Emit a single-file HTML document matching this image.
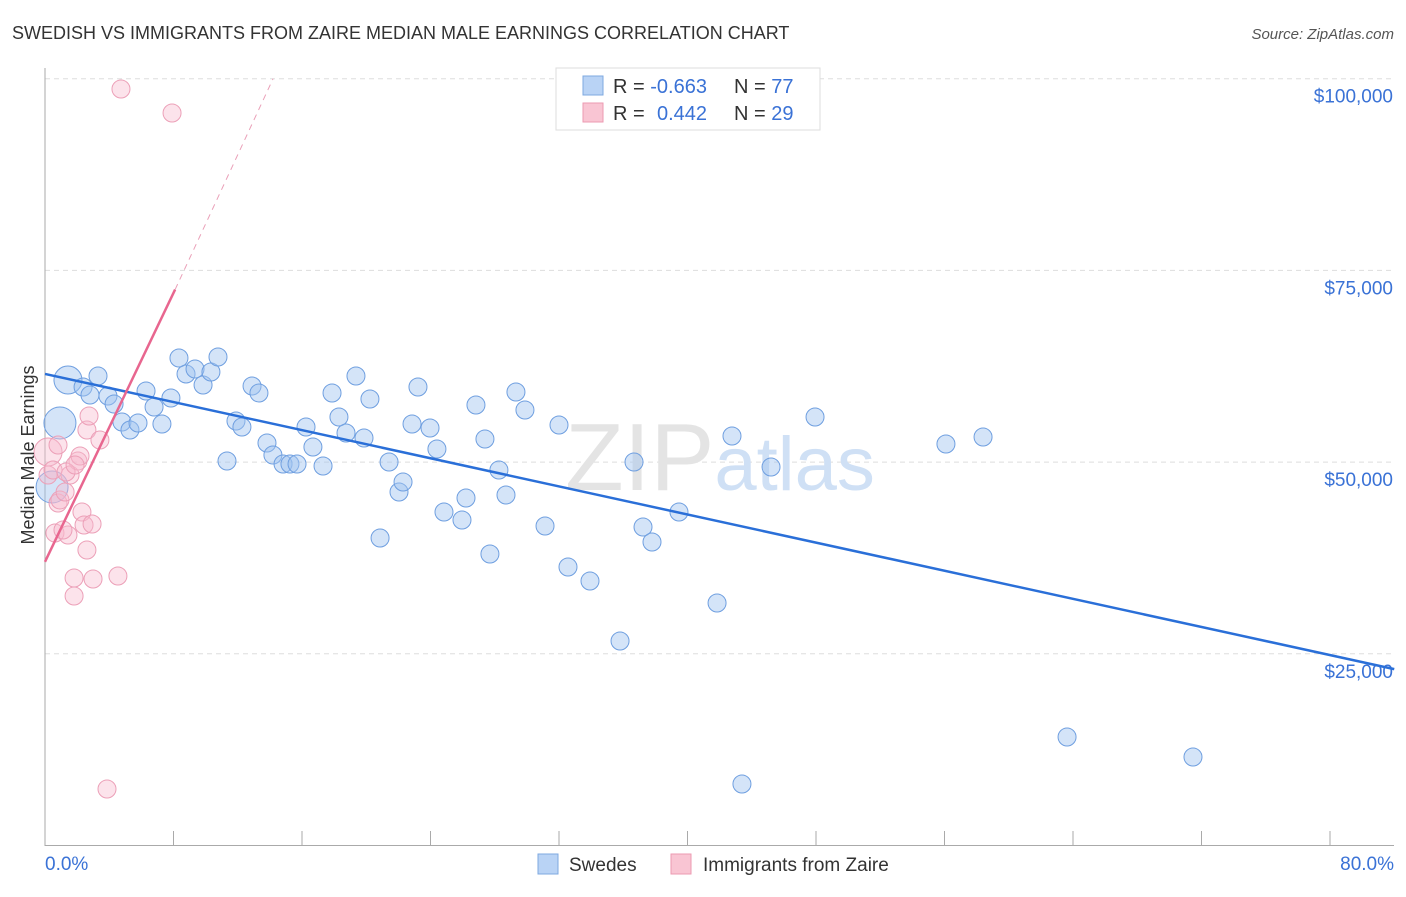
<!DOCTYPE html>
<html><head><meta charset="utf-8"><style>
body{margin:0;background:#fff;font-family:"Liberation Sans",sans-serif}
svg text{font-family:"Liberation Sans",sans-serif}
</style></head><body>
<svg id="chart" width="1406" height="892" viewBox="0 0 1406 892" xmlns="http://www.w3.org/2000/svg">
<text x="12" y="39" font-size="18" fill="#333">SWEDISH VS IMMIGRANTS FROM ZAIRE MEDIAN MALE EARNINGS CORRELATION CHART</text>
<text x="1394" y="39" font-size="15" fill="#555" text-anchor="end" font-style="italic">Source: ZipAtlas.com</text>
<g id="grid"></g>
<text x="720" y="490" font-size="96" fill="#e4e4e4" text-anchor="middle" font-family="Liberation Serif">ZIP<tspan fill="#cfe0f5" font-family="Liberation Sans" font-size="76">atlas</tspan></text>
<g id="axes"></g>
<g id="pts"></g>
<g id="lines"></g>
<text transform="translate(34,455) rotate(-90)" font-size="18" fill="#333" text-anchor="middle">Median Male Earnings</text>
<g>
<rect x="556" y="68" width="264" height="62" fill="#fff" stroke="#ddd"/>
<rect x="583" y="76" width="20" height="19" fill="#b9d3f5" stroke="#7ea8e0"/>
<rect x="583" y="103" width="20" height="19" fill="#f9c5d3" stroke="#ec9ab2"/>
<text x="613" y="93" font-size="20" fill="#333">R = <tspan fill="#3a72d6">-0.663</tspan><tspan x="734">N = </tspan><tspan fill="#3a72d6">77</tspan></text>
<text x="613" y="120" font-size="20" fill="#333">R = <tspan fill="#3a72d6" x="657">0.442</tspan><tspan x="734">N = </tspan><tspan fill="#3a72d6">29</tspan></text>
</g>
<g>
<rect x="538" y="854" width="20" height="20" fill="#b9d3f5" stroke="#7ea8e0"/>
<text x="569" y="871" font-size="19" fill="#333">Swedes</text>
<rect x="671" y="854" width="20" height="20" fill="#f9c5d3" stroke="#ec9ab2"/>
<text x="703" y="871" font-size="19" fill="#333">Immigrants from Zaire</text>
</g>
</svg>
<script>
const NS="http://www.w3.org/2000/svg";
const yTicks=[25000,50000,75000,100000];
const yTickLabels=["$25,000","$50,000","$75,000","$100,000"];
const xTickLabels=["0.0%","80.0%"];
// pixel estimates converted to data
const bluePx=[[68,380,14],[60,423,16],[52,487,16],[83,387],[98,376],[90,395],[108,396],[114,404],[122,422],[130,430],[138,423],[146,391],[154,407],[162,424],[171,398],[179,358],[186,374],[195,369],[203,385],[211,372],[218,357],[227,461],[236,421],[242,427],[252,386],[259,393],[267,443],[273,455],[283,464],[290,464],[297,464],[306,427],[313,447],[323,466],[332,393],[339,417],[346,433],[356,376],[364,438],[370,399],[380,538],[389,462],[399,492],[403,482],[412,424],[418,387],[430,428],[437,449],[444,512],[462,520],[466,498],[476,405],[485,439],[490,554],[499,470],[506,495],[516,392],[525,410],[545,526],[559,425],[568,567],[590,581],[620,641],[634,462],[643,527],[652,542],[679,512],[717,603],[732,436],[742,784],[771,467],[815,417],[946,444],[983,437],[1067,737],[1193,757]];
const pinkPx=[[121,89],[172,113],[48,452,14],[48,475],[58,503],[55,533],[60,500],[70,475],[68,535],[74,578],[74,596],[78,461],[80,456],[82,512],[84,525],[87,430],[89,416],[87,550],[92,524],[93,579],[100,440],[107,789],[118,576],[63,530],[65,492],[53,470],[58,445],[66,472],[75,465]];
const toX=p=>(p-45)/1285*80, toY=p=>(845.5-p)/191.7*25000;
const swedesX=bluePx.map(p=>+toX(p[0]).toFixed(2));
const swedesY=bluePx.map(p=>Math.round(toY(p[1])));
const swedesR=bluePx.map(p=>p[2]||9);
const zaireX=pinkPx.map(p=>+toX(p[0]).toFixed(2));
const zaireY=pinkPx.map(p=>Math.round(toY(p[1])));
const zaireR=pinkPx.map(p=>p[2]||9);
const blueTrend=[[0,61500],[84,23000]];
const pinkTrend=[[0,37000],[8.1,72500]];
const pinkDash=[[8.1,72500],[14.2,100000]];

const X=v=>45+v/80*1285, Y=v=>845.5-v/25000*191.7;
function mk(tag,attrs,parent){const e=document.createElementNS(NS,tag);for(const k in attrs)e.setAttribute(k,attrs[k]);parent.appendChild(e);return e;}
const grid=document.getElementById('grid'),axes=document.getElementById('axes'),pts=document.getElementById('pts'),lines=document.getElementById('lines');
yTicks.forEach((t,i)=>{
 const l=mk('line',{x1:45,x2:1394,y1:Y(t),y2:Y(t),stroke:'#ddd','stroke-dasharray':'5,4'},grid);
 
 
 const tx=mk('text',{x:1393,y:Y(t)+24,'font-size':19,fill:'#3a72d6','text-anchor':'end'},axes);
 tx.textContent=yTickLabels[i];
 
 
});
const yl=mk('line',{x1:45,x2:45,y1:68,y2:846,stroke:'#aaa'},axes);


const xl=mk('line',{x1:45,x2:1394,y1:845.5,y2:845.5,stroke:'#aaa'},axes);


for(let i=0;i<=10;i++){const t=mk('line',{x1:X(i*8),x2:X(i*8),y1:831,y2:846,stroke:'#aaa'},axes);
 
 }
[[0,'start',45],[80,'end',1394]].forEach((d,i)=>{const t=mk('text',{x:d[2],y:870,'font-size':19,fill:'#3a72d6','text-anchor':d[1]},axes);t.textContent=xTickLabels[i];
 
 });
swedesX.forEach((x,i)=>{const c=mk('circle',{cx:X(x),cy:Y(swedesY[i]),r:swedesR[i],fill:'rgba(160,195,240,0.45)',stroke:'#6f9fe0','stroke-width':1},pts);
 
 });
zaireX.forEach((x,i)=>{const c=mk('circle',{cx:X(x),cy:Y(zaireY[i]),r:zaireR[i],fill:'rgba(248,185,205,0.4)',stroke:'#eca0b8','stroke-width':1},pts);
 
 });
const b=mk('line',{x1:X(blueTrend[0][0]),y1:Y(blueTrend[0][1]),x2:X(blueTrend[1][0]),y2:Y(blueTrend[1][1]),stroke:'#2a6fd8','stroke-width':2.5},lines);


const p=mk('line',{x1:X(pinkTrend[0][0]),y1:Y(pinkTrend[0][1]),x2:X(pinkTrend[1][0]),y2:Y(pinkTrend[1][1]),stroke:'#e8668f','stroke-width':2.5},lines);


const pd=mk('line',{x1:X(pinkDash[0][0]),y1:Y(pinkDash[0][1]),x2:X(pinkDash[1][0]),y2:Y(pinkDash[1][1]),stroke:'#eaa0b8','stroke-width':1,'stroke-dasharray':'6,5'},lines);


</script>
</body></html>
